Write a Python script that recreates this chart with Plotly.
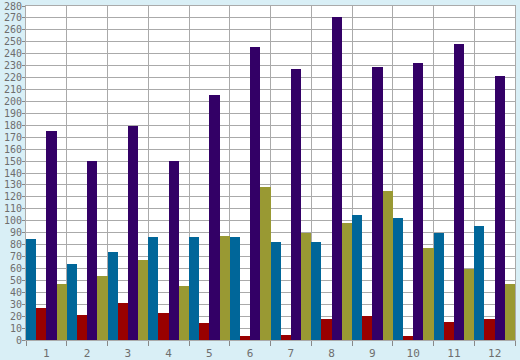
import plotly.graph_objects as go

categories = ["1", "2", "3", "4", "5", "6", "7", "8", "9", "10", "11", "12"]
blue = [85, 63.5, 73.5, 86, 86, 86, 82.5, 82.5, 104.5, 102.5, 89.5, 95.5]
red = [27, 21, 31, 23, 14.5, 3.5, 4.5, 18, 20, 3, 15, 18]
purple = [175.5, 150, 179, 150, 205.5, 245.5, 227, 271, 228.5, 232, 248, 221]
olive = [47, 53.5, 67, 45.5, 87, 128, 90, 98.5, 124.5, 77, 59.5, 47]
y_ticks = list(range(0, 281, 10))

series = [("Series 1", blue, "#006699"), ("Series 2", red, "#990000"),
          ("Series 3", purple, "#330066"), ("Series 4", olive, "#999933")]

fig = go.Figure()
for name, vals, col in series:
    fig.add_trace(go.Bar(x=categories, y=vals, name=name,
                         marker=dict(color=col, line=dict(width=0))))

font = dict(family="DejaVu Sans Mono", size=10, color="#6e6e6e")
xfont = dict(family="DejaVu Sans Mono", size=11, color="#6e6e6e")
fig.update_layout(
    width=520, height=360,
    margin=dict(l=26, r=5, t=6, b=20),
    paper_bgcolor="#d9eff6", plot_bgcolor="#ffffff",
    barmode="group", bargap=0, bargroupgap=0,
    showlegend=False, font=font,
    xaxis=dict(type="category", tickson="boundaries", showgrid=True,
               gridcolor="#aaaaaa", gridwidth=1, ticks="outside", ticklen=5,
               tickcolor="#888888", showline=True, linecolor="#aaaaaa",
               mirror=True, tickfont=xfont, automargin=False,
               ticklabelstandoff=3, ticklabeloverflow="allow"),
    yaxis=dict(range=[0, 280], tickvals=y_ticks, showgrid=True,
               gridcolor="#aaaaaa", gridwidth=1, ticks="outside", ticklen=3,
               tickcolor="#888888", showline=True, linecolor="#aaaaaa",
               mirror=True, zeroline=False, tickfont=font, automargin=False,
               ticklabelstandoff=-2, ticklabeloverflow="allow"),
)
fig.write_html("out.html",
               config={"displayModeBar": False},
               post_script="document.body.style.margin='0';"
                           "document.body.style.background='#d9eff6';")
